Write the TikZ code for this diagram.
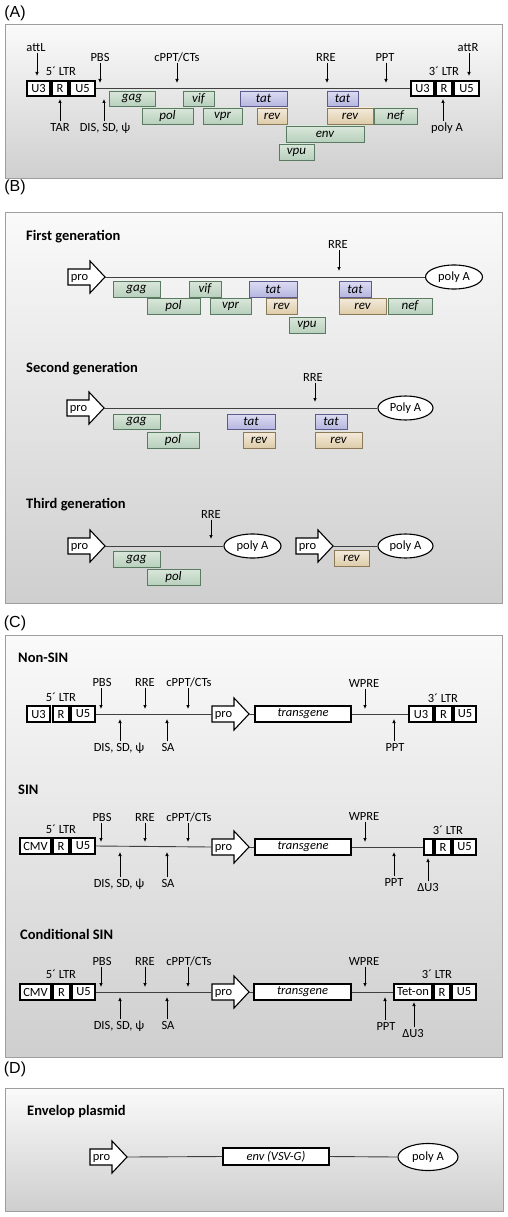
\documentclass[tikz,border=0pt]{standalone}
\usepackage{fontspec}
\setmainfont{Carlito}
\newfontfamily\arialf{Liberation Sans}
\usetikzlibrary{arrows.meta,shapes.geometric}
\definecolor{grF}{HTML}{D9E7DA}\definecolor{grB}{HTML}{B9D0BD}\definecolor{grD}{HTML}{5A7A62}
\definecolor{blF}{HTML}{DCDCF3}\definecolor{blB}{HTML}{B6B6E0}\definecolor{blD}{HTML}{5C5C8C}
\definecolor{tnF}{HTML}{F4EBDB}\definecolor{tnB}{HTML}{DECCAA}\definecolor{tnD}{HTML}{8A7A58}
\tikzset{
 panel/.style={draw=black!38, line width=1pt, top color=black!2, bottom color=black!19},
 plab/.style={font=\arialf\fontsize{16}{18}\selectfont, inner sep=0pt},
 ttl/.style={font=\bfseries\fontsize{14.5}{16}\selectfont, anchor=west, inner sep=0pt},
 lab/.style={font=\fontsize{12.5}{13}\selectfont, inner sep=1.5pt, text depth=0pt},
 ltr/.style={draw, fill=white, line width=1.1pt, font=\fontsize{12.5}{13}\selectfont, inner sep=0pt},
 gbase/.style={draw, line width=0.9pt, font=\itshape\fontsize{13}{14}\selectfont, inner sep=0pt},
 ggreen/.style={draw=grD, top color=grF, bottom color=grB},
 gblue/.style={draw=blD, top color=blF, bottom color=blB},
 gtan/.style={draw=tnD, top color=tnF, bottom color=tnB},
 tgbox/.style={draw, fill=white, line width=1.1pt, font=\itshape\fontsize{12.5}{13}\selectfont, inner sep=0pt},
 bb/.style={draw=black!75, line width=0.9pt},
 pin/.style={-{Latex[length=4pt,width=3.5pt]}, line width=0.7pt},
 probox/.style={draw, fill=white, line width=1.1pt, line join=miter},
 polya/.style={ellipse, draw, fill=white, line width=1.1pt, inner sep=0pt, font=\fontsize{12.5}{13}\selectfont},
}
% box by corners: name, x1, y1, x2, y2, style, text
\newcommand\mybox[7]{\node[#6,minimum width={(#4-#2)*1pt},minimum height={(#5-#3)*1pt}] (#1) at ({(#2+#4)/2},{(#3+#5)/2}) {#7};}
% label above with down arrow: name, x, y, tip, text
\newcommand\lblDown[5]{\node[lab] (#1) at (#2,#3) {#5}; \coordinate (#1-p) at (#4); \draw[pin] (#1.south -| #1-p) -- (#1-p);}
% label below with up arrow
\newcommand\lblUp[5]{\node[lab] (#1) at (#2,#3) {#5}; \coordinate (#1-p) at (#4); \draw[pin] (#1.north -| #1-p) -- (#1-p);}
% promoter arrow: name, xtail, ycenter
\newcommand\proarr[3]{%
 \draw[probox] ({#2},{#3-8}) -- ({#2+22},{#3-8}) -- ({#2+22},{#3-16}) -- ({#2+37},{#3}) -- ({#2+22},{#3+16}) -- ({#2+22},{#3+8}) -- ({#2},{#3+8}) -- cycle;
 \node[lab] (#1) at ({#2+11.5},{#3}) {pro};
 \coordinate (#1-tail) at ({#2},{#3}); \coordinate (#1-tip) at ({#2+37},{#3});}
\begin{document}
\begin{tikzpicture}[x=1pt,y=-1pt]
\useasboundingbox (0,0) rectangle (507,1217);
% ================= (A) =================
\node[plab] (labA) at (15,13) {(A)};
\path[panel] (5,25) rectangle (502,179);
\mybox{AlU3}{27}{81}{50}{96}{ltr}{U3}
\mybox{AlR}{52}{81}{68}{96}{ltr}{R}
\mybox{AlU5}{70}{81}{95}{96}{ltr}{U5}
\mybox{ArU3}{411}{81}{434}{96}{ltr}{U3}
\mybox{ArR}{436}{81}{452}{96}{ltr}{R}
\mybox{ArU5}{454}{81}{479}{96}{ltr}{U5}
\draw[bb] (AlU5.east) -- (ArU3.west);
\node[lab] (Altr5) at (61,71) {5´ LTR};
\node[lab] (Altr3) at (444,71) {3´ LTR};
\lblDown{AattL}{36}{47}{37,76}{attL}
\lblDown{APBS}{100}{57}{100,83}{PBS}
\lblDown{AcPPT}{177}{57}{177,83}{cPPT/CTs}
\lblDown{ARRE}{326}{57}{327,83}{RRE}
\lblDown{APPT}{385}{57}{386,83}{PPT}
\lblDown{AattR}{468}{47}{469,76}{attR}
\lblUp{ATAR}{60}{127}{60,99}{TAR}
\lblUp{ADIS}{105}{127}{104,99}{DIS, SD, ψ}
\lblUp{ApolyA}{447}{127}{443,99}{poly A}
\mybox{Agag}{109}{91}{155}{106}{gbase,ggreen}{gag}
\mybox{Avif}{183}{91}{214}{106}{gbase,ggreen}{vif}
\mybox{Atat}{240}{91}{287}{106}{gbase,gblue}{tat}
\mybox{Atatb}{327}{91}{358}{106}{gbase,gblue}{tat}
\mybox{Apol}{142}{108}{193}{124}{gbase,ggreen}{pol}
\mybox{Avpr}{203}{108}{242}{124}{gbase,ggreen}{vpr}
\mybox{Arev}{257}{108}{287}{124}{gbase,gtan}{rev}
\mybox{Arevb}{327}{108}{373}{124}{gbase,gtan}{rev}
\mybox{Anef}{374}{108}{417}{124}{gbase,ggreen}{nef}
\mybox{Aenv}{286}{126}{364}{142}{gbase,ggreen}{env}
\mybox{Avpu}{279}{144}{314}{160}{gbase,ggreen}{vpu}
% ================= (B) =================
\node[plab] (labB) at (15,187) {(B)};
\path[panel] (5,212) rectangle (502,603);
% first generation
\node[ttl] (B1t) at (26,237) {First generation};
\proarr{B1pro}{68}{277}
\node[polya,minimum width=57pt,minimum height=24pt] (B1poly) at (454,277) {poly A};
\draw[bb] (B1pro-tip) -- (B1poly.west);
\lblDown{B1RRE}{338}{244}{339,271}{RRE}
\mybox{B1gag}{113}{281}{160}{297}{gbase,ggreen}{gag}
\mybox{B1vif}{189}{281}{221}{297}{gbase,ggreen}{vif}
\mybox{B1tat}{249}{281}{297}{297}{gbase,gblue}{tat}
\mybox{B1tatb}{339}{281}{371}{297}{gbase,gblue}{tat}
\mybox{B1pol}{147}{298}{200}{314}{gbase,ggreen}{pol}
\mybox{B1vpr}{210}{298}{251}{314}{gbase,ggreen}{vpr}
\mybox{B1rev}{266}{298}{297}{314}{gbase,gtan}{rev}
\mybox{B1revb}{339}{298}{386}{314}{gbase,gtan}{rev}
\mybox{B1nef}{388}{298}{432}{314}{gbase,ggreen}{nef}
\mybox{B1vpu}{289}{317}{325}{333}{gbase,ggreen}{vpu}
% second generation
\node[ttl] (B2t) at (26,369) {Second generation};
\proarr{B2pro}{67}{408}
\node[polya,minimum width=55pt,minimum height=24pt] (B2poly) at (405.5,408) {Poly A};
\draw[bb] (B2pro-tip) -- (B2poly.west);
\lblDown{B2RRE}{313}{377}{315,402}{RRE}
\mybox{B2gag}{113}{414}{160}{429}{gbase,ggreen}{gag}
\mybox{B2pol}{147}{432}{199}{448}{gbase,ggreen}{pol}
\mybox{B2tat}{227}{414}{275}{429}{gbase,gblue}{tat}
\mybox{B2rev}{243}{432}{275}{448}{gbase,gtan}{rev}
\mybox{B2tatb}{315}{414}{347}{429}{gbase,gblue}{tat}
\mybox{B2revb}{315}{432}{362}{448}{gbase,gtan}{rev}
% third generation
\node[ttl] (B3t) at (26,505) {Third generation};
\proarr{B3pro}{68}{546}
\node[polya,minimum width=57pt,minimum height=24pt] (B3poly) at (252.5,546) {poly A};
\draw[bb] (B3pro-tip) -- (B3poly.west);
\lblDown{B3RRE}{211}{514}{211,539}{RRE}
\mybox{B3gag}{113}{551}{160}{567}{gbase,ggreen}{gag}
\mybox{B3pol}{147}{569}{200}{585}{gbase,ggreen}{pol}
\proarr{B4pro}{296}{546}
\node[polya,minimum width=55pt,minimum height=24pt] (B4poly) at (405.5,546) {poly A};
\draw[bb] (B4pro-tip) -- (B4poly.west);
\mybox{B4rev}{334}{550}{369}{566}{gbase,gtan}{rev}
% ================= (C) =================
\node[plab] (labC) at (15,623) {(C)};
\path[panel] (5,635) rectangle (502,1057);
% Non-SIN
\node[ttl] (C1t) at (18,658) {Non-SIN};
\mybox{C1U3}{27}{706}{50}{722}{ltr}{U3}
\mybox{C1R}{53}{706}{69}{722}{ltr}{R}
\mybox{C1U5}{71}{706}{95}{722}{ltr}{U5}
\node[lab] (C1ltr5) at (61,697) {5´ LTR};
\proarr{C1pro}{212}{714}
\mybox{C1tg}{255}{706}{351}{722}{tgbox}{transgene}
\mybox{C1rU3}{409}{706}{433}{722}{ltr}{U3}
\mybox{C1rR}{435}{706}{452}{722}{ltr}{R}
\mybox{C1rU5}{454}{706}{476}{722}{ltr}{U5}
\node[lab] (C1ltr3) at (443,698) {3´ LTR};
\draw[bb] (C1U5.east) -- (C1pro-tail);
\draw[bb] (C1pro-tip) -- (C1tg.west);
\draw[bb] (C1tg.east) -- (C1rU3.west);
\lblDown{C1PBS}{102}{682}{101,709}{PBS}
\lblDown{C1RRE}{145}{682}{145,709}{RRE}
\lblDown{C1cPPT}{189}{682}{188,709}{cPPT/CTs}
\lblDown{C1WPRE}{364}{683}{365,709}{WPRE}
\lblUp{C1DIS}{119}{747}{120,719}{DIS, SD, ψ}
\lblUp{C1SA}{168}{747}{167,719}{SA}
\lblUp{C1PPT}{395}{747}{394,719}{PPT}
% SIN
\node[ttl] (C2t) at (18,790) {SIN};
\mybox{C2CMV}{20}{838}{51}{854}{ltr}{CMV}
\mybox{C2R}{53}{838}{69}{854}{ltr}{R}
\mybox{C2U5}{71}{838}{95}{854}{ltr}{U5}
\node[lab] (C2ltr5) at (61,829) {5´ LTR};
\proarr{C2pro}{212}{847}
\mybox{C2tg}{255}{839}{351}{855}{tgbox}{transgene}
\mybox{C2dU3}{424}{839}{433}{855}{ltr}{}
\mybox{C2rR}{435}{839}{451}{855}{ltr}{R}
\mybox{C2rU5}{453}{839}{476}{855}{ltr}{U5}
\node[lab] (C2ltr3) at (448,830) {3´ LTR};
\draw[bb] (C2U5.east) -- (C2pro-tail);
\draw[bb] (C2pro-tip) -- (C2tg.west);
\draw[bb] (C2tg.east) -- (C2dU3.west);
\lblDown{C2PBS}{102}{817}{101,842}{PBS}
\lblDown{C2RRE}{145}{817}{145,842}{RRE}
\lblDown{C2cPPT}{189}{817}{188,842}{cPPT/CTs}
\lblDown{C2WPRE}{364}{816}{365,842}{WPRE}
\lblUp{C2DIS}{119}{883}{120,852}{DIS, SD, ψ}
\lblUp{C2SA}{168}{883}{167,852}{SA}
\lblUp{C2PPT}{394}{882}{394,852}{PPT}
\lblUp{C2dU3t}{428}{887}{428,858}{ΔU3}
% Conditional SIN
\node[ttl] (C3t) at (20,934) {Conditional SIN};
\mybox{C3CMV}{20}{984}{51}{1000}{ltr}{CMV}
\mybox{C3R}{53}{984}{70}{1000}{ltr}{R}
\mybox{C3U5}{72}{984}{95}{1000}{ltr}{U5}
\node[lab] (C3ltr5) at (61,974) {5´ LTR};
\proarr{C3pro}{212}{992}
\mybox{C3tg}{254}{984}{351}{1000}{tgbox}{transgene}
\mybox{C3tet}{394}{984}{432}{1000}{ltr}{Tet-on}
\mybox{C3rR}{434}{984}{450}{1000}{ltr}{R}
\mybox{C3rU5}{452}{984}{476}{1000}{ltr}{U5}
\node[lab] (C3ltr3) at (437,974) {3´ LTR};
\draw[bb] (C3U5.east) -- (C3pro-tail);
\draw[bb] (C3pro-tip) -- (C3tg.west);
\draw[bb] (C3tg.east) -- (C3tet.west);
\lblDown{C3PBS}{102}{961}{101,987}{PBS}
\lblDown{C3RRE}{145}{961}{145,987}{RRE}
\lblDown{C3cPPT}{189}{961}{188,987}{cPPT/CTs}
\lblDown{C3WPRE}{364}{961}{365,987}{WPRE}
\lblUp{C3DIS}{119}{1025}{120,997}{DIS, SD, ψ}
\lblUp{C3SA}{168}{1025}{167,997}{SA}
\lblUp{C3PPT}{386}{1026}{385,997}{PPT}
\lblUp{C3dU3t}{413}{1033}{414,1002}{ΔU3}
% ================= (D) =================
\node[plab] (labD) at (15,1069) {(D)};
\path[panel] (5,1088) rectangle (503,1211);
\node[ttl] (Dt) at (27,1112) {Envelop plasmid};
\proarr{Dpro}{90}{1157}
\mybox{Denv}{223}{1148}{329}{1165}{tgbox}{env (VSV-G)}
\node[polya,minimum width=60pt,minimum height=27pt] (Dpoly) at (428,1157) {poly A};
\draw[bb] (Dpro-tip) -- (Denv.west);
\draw[bb] (Denv.east) -- (Dpoly.west);
\end{tikzpicture}
\end{document}
